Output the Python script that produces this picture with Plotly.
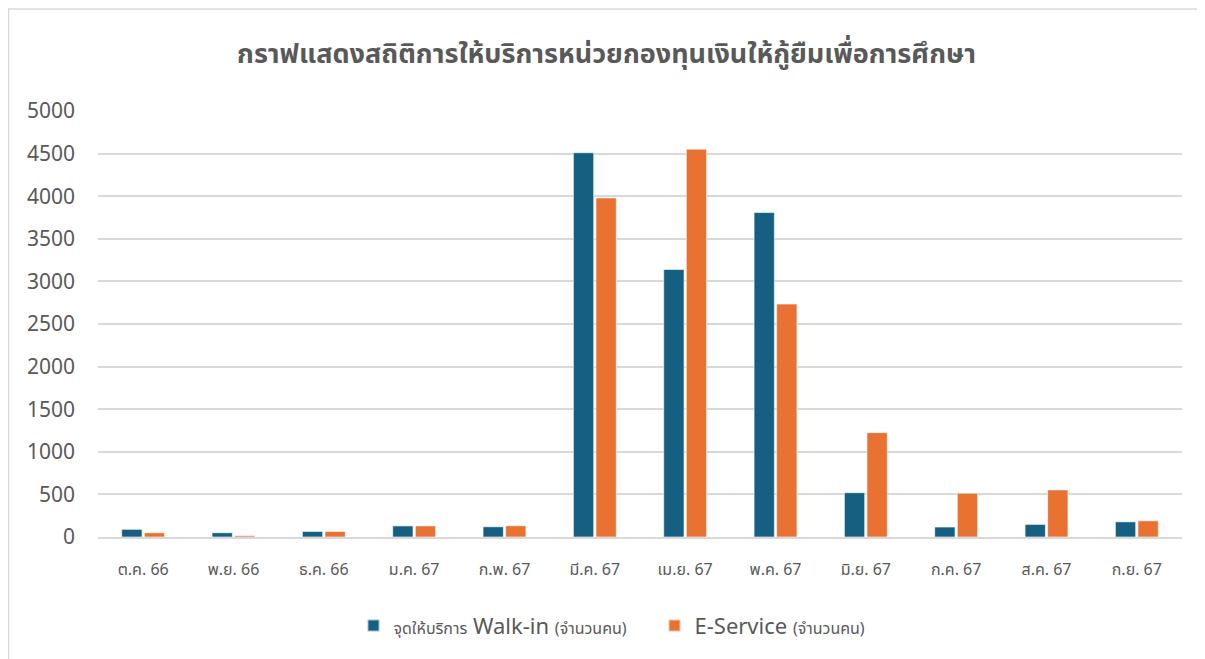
import plotly.graph_objects as go

months = ["ต.ค. 66", "พ.ย. 66", "ธ.ค. 66", "ม.ค. 67", "ก.พ. 67", "มี.ค. 67",
          "เม.ย. 67", "พ.ค. 67", "มิ.ย. 67", "ก.ค. 67", "ส.ค. 67", "ก.ย. 67"]
walk_in = [90, 50, 65, 130, 120, 4510, 3140, 3808, 520, 117, 148, 178]
e_service = [50, 15, 65, 130, 132, 3980, 4552, 2734, 1225, 514, 553, 190]
y_ticks = [0, 500, 1000, 1500, 2000, 2500, 3000, 3500, 4000, 4500, 5000]

title = "กราฟแสดงสถิติการให้บริการหน่วยกองทุนเงินให้กู้ยืมเพื่อการศึกษา"
name_walk = ("<span style='font-size:16px'>จุดให้บริการ</span> Walk-in "
             "<span style='font-size:16px'>(จำนวนคน)</span>&nbsp;&nbsp;&nbsp;&nbsp;")
name_e = "E-Service <span style='font-size:16px'>(จำนวนคน)</span>"

FONT = "Noto Sans Thai, Noto Sans, Open Sans, sans-serif"
GRAY = "#595959"

fig = go.Figure()
fig.add_trace(go.Bar(x=months, y=walk_in, name=name_walk,
                     marker=dict(color="#156082", line=dict(color="rgba(255,255,255,0.6)", width=1))))
fig.add_trace(go.Bar(x=months, y=e_service, name=name_e,
                     marker=dict(color="#E97132", line=dict(color="rgba(255,255,255,0.6)", width=1))))

# page body has an 8px margin; figure sized/offset to compensate
OFF = 8
W, H = 1205 - OFF, 659 - OFF
L, R, T, B = 98 - OFF, 1182 - OFF, 111 - OFF, 539 - OFF
fig.update_layout(
    width=W, height=H,
    margin=dict(l=L, r=W - R, t=T, b=H - B, pad=0),
    paper_bgcolor="white", plot_bgcolor="white",
    barmode="group", bargap=0.5, bargroupgap=0.1,
    font=dict(family=FONT, color=GRAY),
    title=dict(text="<b>" + title + "</b>", x=0.5, xanchor="center", y=1 - (54 - OFF) / H, yanchor="middle",
               font=dict(size=27, color=GRAY, family=FONT)),
    legend=dict(orientation="h", x=(612 - 98) / (R - L), xanchor="center",
                y=(B - (628 - OFF)) / (B - T), yanchor="middle",
                font=dict(size=22, color=GRAY), itemsizing="constant", traceorder="normal",
                itemwidth=30),
    showlegend=True,
)
fig.update_xaxes(type="category", showgrid=False, showline=True, linecolor="#d9d9d9", linewidth=1.5,
                 ticks="", tickfont=dict(size=16, color=GRAY), ticklabelstandoff=17)
fig.update_yaxes(range=[0, 5000], tickvals=y_ticks, showgrid=True, gridcolor="#d9d9d9", gridwidth=1.5,
                 zeroline=False, showline=False, ticks="", tickfont=dict(size=21, color=GRAY),
                 ticklabelstandoff=22)

# chart border
pw, ph = R - L, B - T
fig.add_shape(type="rect", xref="paper", yref="paper",
              x0=(0.5 - L) / pw, x1=(W + 20 - L) / pw,
              y0=(B - (H + 20)) / ph, y1=(B - 0.5) / ph,
              line=dict(color="#d9d9d9", width=1.5), fillcolor="rgba(0,0,0,0)", layer="below")

fig.write_html("out.html")
